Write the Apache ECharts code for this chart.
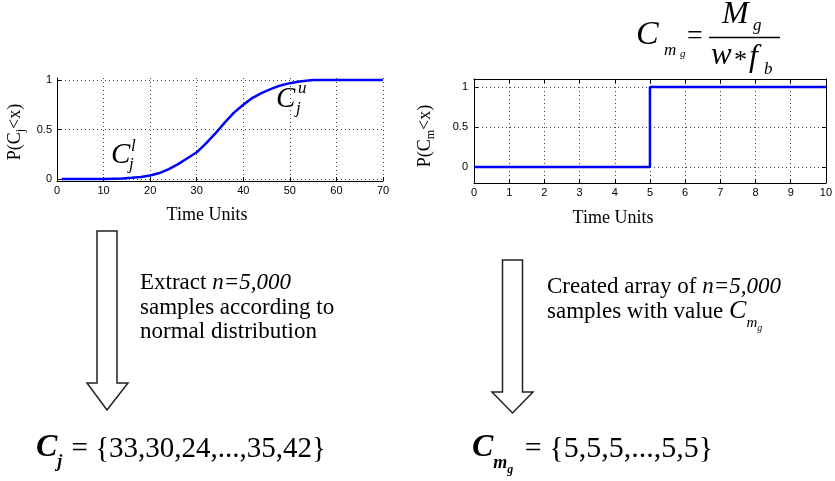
<!DOCTYPE html>
<html>
<head>
<meta charset="utf-8">
<script src="https://cdn.jsdelivr.net/npm/echarts@6/dist/echarts.min.js"></script>
<style>
html, body { margin: 0; padding: 0; background: #fff; }
#chart { width: 835px; height: 481px; }
</style>
</head>
<body>
<div id="chart"></div>
<script>
// left panel: empirical CDF of C_j
const cdfTime = [1, 10, 14, 16, 18, 20, 22, 24, 26, 28, 30, 32, 34, 36, 38, 40, 42, 44, 46, 48, 50, 52, 55, 70];
const cdfProb = [0, 0, 0.005, 0.012, 0.02, 0.035, 0.06, 0.1, 0.15, 0.21, 0.27, 0.36, 0.46, 0.57, 0.67, 0.75, 0.82, 0.87, 0.91, 0.945, 0.968, 0.985, 1, 1];
// right panel: step CDF of C_mg
const stepTime = [0, 5, 5, 10];
const stepProb = [0, 0, 1, 1];
const probTicks = [0, 0.5, 1];
// sample arrays shown under the arrows
const sampleCjHead = [33, 30, 24];
const sampleCjTail = [35, 42];
const sampleCmgHead = [5, 5, 5];
const sampleCmgTail = [5, 5];

const SERIF = '"Liberation Serif", "Times New Roman", serif';
const ctx = document.createElement('canvas').getContext('2d');

function fontOf(p) {
  return (p.i ? 'italic ' : '') + (p.b ? 'bold ' : '') + p.s + 'px ' + SERIF;
}
function textW(p) {
  ctx.font = fontOf(p);
  return ctx.measureText(p.t).width;
}
// one piece of text, y given as baseline
function txt(p, x, base, align) {
  return {
    type: 'text',
    x: x,
    y: base - 0.34 * p.s,
    silent: true,
    style: {
      text: p.t,
      font: fontOf(p),
      fill: '#000',
      align: align || 'left',
      textAlign: align || 'left',
      verticalAlign: 'middle',
      textVerticalAlign: 'middle'
    }
  };
}
// pieces laid out left to right, dy shifts the baseline (subscripts)
function run(pieces, x0, base) {
  let x = x0;
  return pieces.map(function (p) {
    x += p.dx || 0;
    const el = txt(p, x, base + (p.dy || 0));
    x += textW(p);
    return el;
  });
}
function runWidth(pieces) {
  return pieces.reduce(function (a, p) { return a + (p.dx || 0) + textW(p); }, 0);
}
// vertical axis title, reads bottom to top
function vLabel(pieces, bx, cy) {
  const w = runWidth(pieces);
  return {
    type: 'group',
    x: bx,
    y: cy,
    rotation: Math.PI / 2,
    children: run(pieces, -w / 2, 0)
  };
}
function arrow(xl, xr, top, wingY, hl, hr, tipY) {
  const mid = (xl + xr) / 2;
  return {
    type: 'polygon',
    silent: true,
    shape: { points: [[xl, top], [xl, wingY], [hl, wingY], [mid, tipY], [hr, wingY], [xr, wingY], [xr, top]] },
    style: { fill: '#fff', stroke: '#222', lineWidth: 1.5 }
  };
}

const setText = function (head, tail) {
  return '{' + head.join(',') + ',...,' + tail.join(',') + '}';
};

const graphics = [
  vLabel([{ t: 'P(C', s: 18 }, { t: 'j', s: 12, dy: 4 }, { t: '<x)', s: 18 }], 21, 132),
  vLabel([{ t: 'P(C', s: 18 }, { t: 'm', s: 12, dy: 4 }, { t: '<x)', s: 18 }], 431, 136),
  txt({ t: 'Time Units', s: 18 }, 207, 221, 'center'),
  txt({ t: 'Time Units', s: 18 }, 613, 224, 'center'),
  // annotations on left curve
  txt({ t: 'C', s: 29, i: 1 }, 111, 165),
  txt({ t: 'l', s: 17, i: 1 }, 131, 152),
  txt({ t: 'j', s: 17, i: 1 }, 129, 170),
  txt({ t: 'C', s: 29, i: 1 }, 276, 109),
  txt({ t: 'u', s: 17, i: 1 }, 298, 94),
  txt({ t: 'j', s: 17, i: 1 }, 296, 114),
  // formula above right panel
  txt({ t: 'C', s: 34, i: 1 }, 636, 47),
  txt({ t: 'm', s: 17, i: 1 }, 664, 56),
  txt({ t: 'g', s: 11, i: 1 }, 680, 58),
  txt({ t: '=', s: 28 }, 687, 46),
  txt({ t: 'M', s: 32, i: 1 }, 722, 25),
  txt({ t: 'g', s: 17, i: 1 }, 753, 31),
  {
    type: 'line', silent: true,
    shape: { x1: 709, y1: 37.5, x2: 780, y2: 37.5 },
    style: { stroke: '#000', lineWidth: 1.5 }
  },
  txt({ t: 'w', s: 31, i: 1 }, 711, 66),
  txt({ t: '*', s: 26 }, 734, 70),
  txt({ t: 'f', s: 32, i: 1 }, 749, 68),
  txt({ t: 'b', s: 17, i: 1 }, 764, 75),
  // arrows
  arrow(97, 117, 231, 383, 87, 128, 410),
  arrow(502.5, 522.5, 260, 392, 492, 533, 413)
].concat(
  run([{ t: 'Extract ', s: 23 }, { t: 'n=5,000', s: 23, i: 1 }], 140, 291),
  run([{ t: 'samples according to', s: 23 }], 140, 315.5),
  run([{ t: 'normal distribution', s: 23 }], 140, 340),
  run([{ t: 'Created array of ', s: 23 }, { t: 'n=5,000', s: 23, i: 1 }], 547, 295),
  run([{ t: 'samples with value ', s: 23 }, { t: 'C', s: 26, i: 1 }, { t: 'm', s: 15, i: 1, dy: 8 }, { t: 'g', s: 10, i: 1, dy: 12 }], 547, 320),
  run([{ t: 'C', s: 32, i: 1, b: 1 }, { t: 'j', s: 18, i: 1, b: 1, dy: 9 }, { t: ' = ' + setText(sampleCjHead, sampleCjTail), s: 29, dx: 2 }], 36, 459),
  run([{ t: 'C', s: 32, i: 1, b: 1 }, { t: 'm', s: 18, i: 1, b: 1, dy: 10 }, { t: 'g', s: 12, i: 1, b: 1, dy: 15 }, { t: ' = ' + setText(sampleCmgHead, sampleCmgTail), s: 30, dx: 4 }], 472, 459)
);

const axisBase = {
  axisLine: { show: true, onZero: false, lineStyle: { color: '#000', width: 1 } },
  axisTick: { show: true, inside: true, length: 4, lineStyle: { color: '#000' } },
  axisLabel: { fontFamily: '"Liberation Sans", Arial, sans-serif', fontSize: 11, color: '#000', margin: 4 },
  splitLine: { show: true, lineStyle: { type: [1, 3], color: '#444', width: 1 } }
};
const frame = {
  axisLine: { show: true, onZero: false, lineStyle: { color: '#000', width: 1 } },
  axisTick: { show: true, inside: true, length: 4, lineStyle: { color: '#000' } },
  axisLabel: { show: false },
  splitLine: { show: false }
};

const myChart = echarts.init(document.getElementById('chart'), null, { renderer: 'canvas' });
myChart.setOption({
  animation: false,
  backgroundColor: '#fff',
  grid: [
    { left: 57, top: 78, width: 326, height: 103 },
    { left: 474, top: 79, width: 359, height: 104 }
  ],
  xAxis: [
    Object.assign({ type: 'value', gridIndex: 0, min: 0, max: 70, interval: 10 }, axisBase),
    Object.assign({ type: 'value', gridIndex: 1, min: 0, max: 10, interval: 1 }, axisBase),
    Object.assign({ type: 'value', gridIndex: 1, position: 'top', min: 0, max: 10, interval: 1 }, frame)
  ],
  yAxis: [
    Object.assign({}, axisBase, {
      type: 'value', gridIndex: 0, min: -0.02, max: 1.02,
      axisTick: Object.assign({}, axisBase.axisTick, { customValues: probTicks }),
      axisLabel: Object.assign({}, axisBase.axisLabel, { customValues: probTicks, margin: 5 })
    }),
    Object.assign({}, axisBase, {
      type: 'value', gridIndex: 1, min: -0.2, max: 1.1,
      axisTick: Object.assign({}, axisBase.axisTick, { customValues: probTicks }),
      axisLabel: Object.assign({}, axisBase.axisLabel, { customValues: probTicks, margin: 6 })
    }),
    Object.assign({}, frame, {
      type: 'value', gridIndex: 1, position: 'right', min: -0.2, max: 1.1,
      axisTick: Object.assign({}, frame.axisTick, { customValues: probTicks })
    })
  ],
  series: [
    {
      type: 'line', xAxisIndex: 0, yAxisIndex: 0,
      data: cdfTime.map(function (t, i) { return [t, cdfProb[i]]; }),
      showSymbol: false, symbol: 'none',
      lineStyle: { color: '#0000ff', width: 2.5 }
    },
    {
      type: 'line', xAxisIndex: 1, yAxisIndex: 1,
      data: stepTime.map(function (t, i) { return [t, stepProb[i]]; }),
      showSymbol: false, symbol: 'none',
      lineStyle: { color: '#0000ff', width: 2.5 }
    }
  ],
  graphic: graphics
});
</script>
</body>
</html>
